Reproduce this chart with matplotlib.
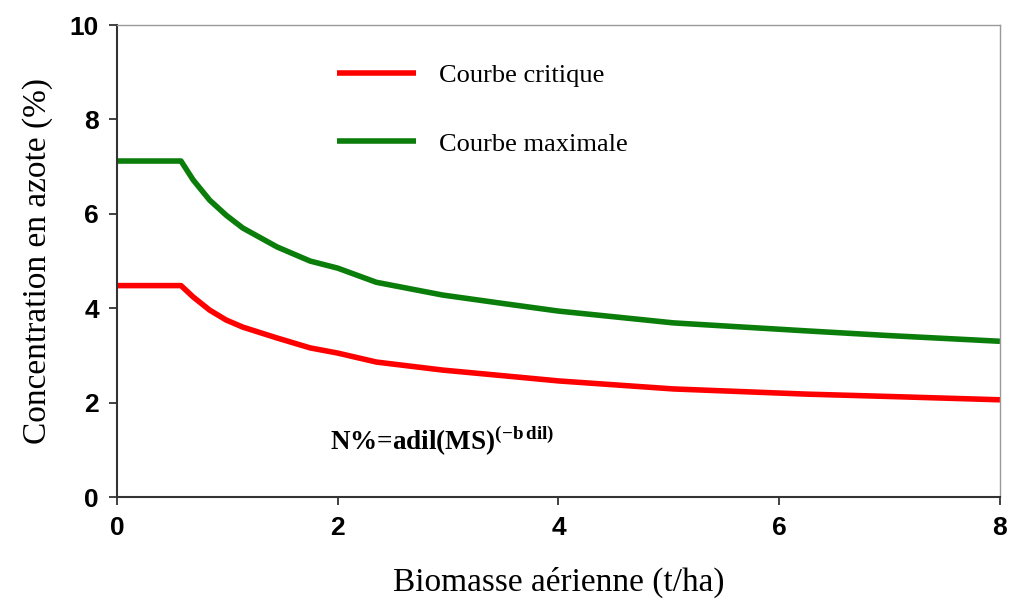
import matplotlib
matplotlib.use("Agg")
from matplotlib import pyplot as plt

# data
biomasse = [0.0, 0.58, 0.69, 0.84, 0.99, 1.14, 1.45, 1.75, 2.0, 2.35, 2.95, 3.5, 4.0, 5.04, 6.25, 7.0, 8.0]
courbe_critique = [4.48, 4.48, 4.24, 3.96, 3.75, 3.60, 3.37, 3.16, 3.05, 2.86, 2.69, 2.57, 2.46, 2.29, 2.18, 2.13, 2.06]
courbe_maximale = [7.12, 7.12, 6.72, 6.29, 5.97, 5.70, 5.30, 5.00, 4.85, 4.55, 4.28, 4.10, 3.94, 3.69, 3.52, 3.42, 3.30]
xticks = [0, 2, 4, 6, 8]
yticks = [0, 2, 4, 6, 8, 10]

plt.rcParams['mathtext.fontset'] = 'custom'
plt.rcParams['mathtext.rm'] = 'Liberation Serif:bold'
plt.rcParams['mathtext.bf'] = 'Liberation Serif:bold'

fig = plt.figure(figsize=(10.11, 6.05), dpi=100)
ax = fig.add_axes([0.1157, 0.1785, 0.8734, 0.780])

ax.plot(biomasse, courbe_critique, color="#ff0000", lw=4, label="Courbe critique",
        solid_capstyle="butt")
ax.plot(biomasse, courbe_maximale, color="#0a7d0a", lw=4, label="Courbe maximale",
        solid_capstyle="butt")

ax.set_xlim(0, 8)
ax.set_ylim(0, 10)
ax.set_xticks(xticks)
ax.set_yticks(yticks)
for lab in ax.get_xticklabels() + ax.get_yticklabels():
    lab.set_fontfamily("Liberation Sans")
    lab.set_fontweight("bold")
    lab.set_fontsize(19)
ax.tick_params(direction="out", length=6, width=1.3, color="#333333")
ax.tick_params(axis="x", pad=8)
ax.tick_params(axis="y", pad=7)

for s in ["left", "bottom"]:
    ax.spines[s].set_color("#333333")
    ax.spines[s].set_linewidth(1.5)
for s in ["top", "right"]:
    ax.spines[s].set_color("#999999")
    ax.spines[s].set_linewidth(1.0)

ax.set_xlabel("Biomasse aérienne (t/ha)", fontfamily="Liberation Serif", fontsize=24, labelpad=19)
ax.set_ylabel("Concentration en azote (%)", fontfamily="Liberation Serif", fontsize=24, labelpad=12)

leg = ax.legend(loc="upper left", bbox_to_anchor=(0.249, 0.919), frameon=False,
                prop={"family": "Liberation Serif", "size": 19},
                handlelength=3.0, handletextpad=0.87, labelspacing=1.72,
                borderpad=0, borderaxespad=0)

ax.text(1.93, 1.2, r"N%=adil(MS)$^{(\mathrm{-b\,dil})}$", fontfamily="Liberation Serif",
        fontweight="bold", fontsize=19.5, va="center", ha="left")

plt.savefig("out.png", dpi=100)
